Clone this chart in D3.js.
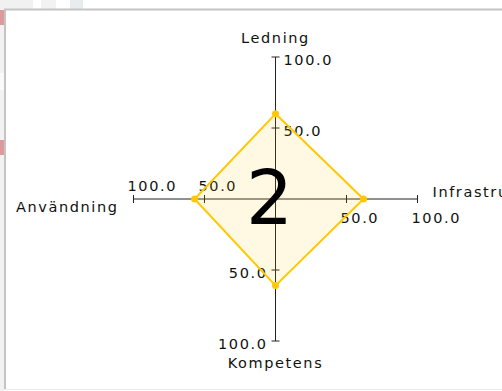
<!DOCTYPE html>
<html lang="en">
<head>
<meta charset="UTF-8">
<title>Radar</title>
<script src="https://d3js.org/d3.v7.min.js"></script>
<style>
  html, body { margin: 0; padding: 0; background: #fff; }
  svg { display: block; }
  .lbl { font-family: "DejaVu Sans", sans-serif; font-size: 14.5px; letter-spacing: 1.6px; fill: #111; }
</style>
</head>
<body>
<svg id="chart" width="502" height="391"></svg>
<script>
// axis names, clockwise from the top
var axes = ["Ledning", "Infrastruktur", "Kompetens", "Användning"];
var values = [60, 62, 61, 57];
var tickValues = [50, 100];
var bigLabel = "2";

var svg = d3.select("#chart"),
  width = +svg.attr("width"),
  height = +svg.attr("height");

// window chrome round the panel
svg.append("rect").attr("x", 0).attr("y", 0).attr("width", width).attr("height", 9).attr("fill", "#fff");
svg.append("rect").attr("x", 0).attr("y", 0).attr("width", 33).attr("height", 9).attr("fill", "#f1f1f1");
svg.append("rect").attr("x", 41).attr("y", 0).attr("width", 15).attr("height", 9).attr("fill", "#f2f2f2");
svg.append("rect").attr("x", 70).attr("y", 0).attr("width", 13).attr("height", 9).attr("fill", "#e9eced");
svg.append("rect").attr("x", 0).attr("y", 9).attr("width", 4).attr("height", height - 9).attr("fill", "#f2f2f2");
svg.append("rect").attr("x", 0).attr("y", 73).attr("width", 4).attr("height", 17).attr("fill", "#fafafa");
svg.append("rect").attr("x", 0).attr("y", 10).attr("width", 4).attr("height", 15).attr("fill", "#dc9a9c");
svg.append("rect").attr("x", 0).attr("y", 140).attr("width", 4).attr("height", 15).attr("fill", "#dc9a9c");
// panel border
svg.append("rect").attr("x", 4).attr("y", 9).attr("width", width).attr("height", 380).attr("fill", "#fff");
svg.append("line").attr("x1", 4).attr("x2", width).attr("y1", 9.5).attr("y2", 9.5).attr("stroke", "#c4c4c4").attr("stroke-width", 2);
svg.append("line").attr("x1", 5).attr("x2", 5).attr("y1", 9).attr("y2", 389).attr("stroke", "#c4c4c4").attr("stroke-width", 2);
svg.append("line").attr("x1", 4).attr("x2", width).attr("y1", 389.5).attr("y2", 389.5).attr("stroke", "#ececec").attr("stroke-width", 1);

var cx = 275.5, cy = 199;
var r = d3.scaleLinear().domain([0, 100]).range([0, 142]);

function angle(i) { return i * 2 * Math.PI / axes.length; }
function px(i, v) { return cx + Math.sin(angle(i)) * r(v); }
function py(i, v) { return cy - Math.cos(angle(i)) * r(v); }

var g = svg.append("g");

// axis lines
g.selectAll(".axis")
  .data(axes)
  .enter()
  .append("line")
    .attr("x1", cx).attr("y1", cy)
    .attr("x2", function(d, i) { return px(i, 100); })
    .attr("y2", function(d, i) { return py(i, 100); })
    .attr("stroke", "#222")
    .attr("stroke-width", 1);

// ticks and tick labels
// label offsets, per axis: top -> right side, right -> below, bottom -> left side, left -> above
var labelOff = [
  { dx: 8, dy: 8, anchor: "start" },
  { dx: -6, dy: 24, anchor: "start" },
  { dx: -8, dy: 8, anchor: "end" },
  { dx: -6, dy: -8, anchor: "start" }
];
axes.forEach(function(a, i) {
  var vx = Math.cos(angle(i)), vy = Math.sin(angle(i)); // perpendicular
  tickValues.forEach(function(t) {
    var x = px(i, t), y = py(i, t);
    g.append("line")
      .attr("x1", x - vx * 4).attr("y1", y - vy * 4)
      .attr("x2", x + vx * 4).attr("y2", y + vy * 4)
      .attr("stroke", "#222");
    g.append("text")
      .attr("class", "lbl")
      .attr("x", x + labelOff[i].dx)
      .attr("y", y + labelOff[i].dy)
      .attr("text-anchor", labelOff[i].anchor)
      .text(d3.format(".1f")(t));
  });
});

// axis titles
var titlePos = [
  { dx: 0, dy: -14, anchor: "middle" },
  { dx: 15, dy: -2, anchor: "start" },
  { dx: 0, dy: 27, anchor: "middle" },
  { dx: -15, dy: 13, anchor: "end" }
];
axes.forEach(function(a, i) {
  g.append("text")
    .attr("class", "lbl")
    .attr("x", px(i, 100) + titlePos[i].dx)
    .attr("y", py(i, 100) + titlePos[i].dy)
    .attr("text-anchor", titlePos[i].anchor)
    .text(a);
});

// the data polygon
var pts = values.map(function(v, i) { return [px(i, v), py(i, v)]; });
g.append("path")
  .attr("d", d3.line().curve(d3.curveLinearClosed)(pts))
  .attr("fill", "#ffc800")
  .attr("fill-opacity", 0.11)
  .attr("stroke", "#ffc800")
  .attr("stroke-width", 2);

g.selectAll(".pt")
  .data(pts)
  .enter()
  .append("circle")
    .attr("cx", function(d) { return d[0]; })
    .attr("cy", function(d) { return d[1]; })
    .attr("r", 3.5)
    .attr("fill", "#ffc800");

// big number in the middle
g.append("text")
  .attr("x", cx - 6)
  .attr("y", cy + 25)
  .attr("text-anchor", "middle")
  .style("font-family", "DejaVu Sans, sans-serif")
  .style("font-size", "74px")
  .attr("fill", "#000")
  .text(bigLabel);
</script>
</body>
</html>
